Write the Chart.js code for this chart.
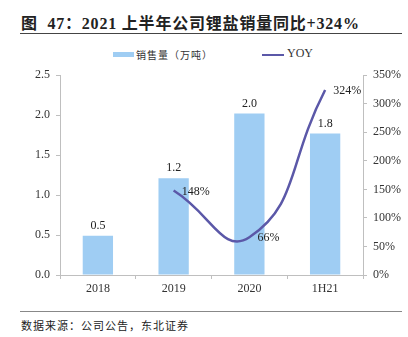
<!DOCTYPE html>
<html lang="zh-CN">
<head>
<meta charset="UTF-8" />
<title>2021上半年公司锂盐销量</title>
<script src="https://cdn.jsdelivr.net/npm/chart.js"></script>
<style>
    body {
        margin: 0;
        width: 408px;
        height: 337px;
        background: #fff;
        position: relative;
        overflow: hidden;
        font-family: 'Liberation Serif', 'Noto Sans CJK SC', serif;
        color: #222;
    }
    .titulo {
        position: absolute;
        left: 21px;
        top: 10px;
        font-size: 16px;
        font-weight: bold;
        white-space: nowrap;
        letter-spacing: 0.8px;
    }
    .regua {
        position: absolute;
        left: 20px;
        width: 382px;
        height: 0;
    }
    .legenda {
        position: absolute;
        top: 47px;
        left: 0;
        width: 408px;
        font-size: 10px;
        font-family: 'Noto Sans CJK SC', sans-serif;
        color: #333;
    }
    .legenda span { position: absolute; white-space: nowrap; }
    .fonte {
        position: absolute;
        left: 21px;
        top: 317px;
        font-size: 11px;
        font-family: 'Noto Sans CJK SC', sans-serif;
        color: #222;
        letter-spacing: 1px;
    }
    .caixa {
        position: absolute;
        left: 0;
        top: 62px;
        width: 408px;
        height: 240px;
    }
</style>
</head>
<body>
    <div class="titulo">图&nbsp;&nbsp;47：2021 上半年公司锂盐销量同比+324%</div>
    <div class="regua" style="top:33px;border-top:1.5px solid #444;"></div>
    <div class="legenda" id="legenda"></div>
    <div class="caixa">
        <canvas id="grafico" width="408" height="240"></canvas>
    </div>
    <div class="regua" style="top:311px;border-top:1.5px solid #888;"></div>
    <div class="fonte">数据来源：公司公告，东北证券</div>

<script>
    // dados
    const categorias = ['2018', '2019', '2020', '1H21'];
    const vendas = [0.49, 1.21, 2.02, 1.77];
    const vendasRotulos = ['0.5', '1.2', '2.0', '1.8'];
    const yoy = [null, 148, 66, 324];
    const nomeVendas = '销售量（万吨）';
    const nomeYoy = 'YOY';

    const corBarra = '#9fcdf3';
    const corLinha = '#5b58a8';
    const corEixo = '#bfbfbf';
    const corTexto = '#333';
    const fonteNum = { family: "'Liberation Serif', serif", size: 12 };

    // legenda em html
    const leg = document.getElementById('legenda');
    leg.innerHTML =
        '<span style="left:113px;top:5px;width:21px;height:5px;background:' + corBarra + '"></span>' +
        '<span style="left:136px;top:0px;letter-spacing:1px;">' + nomeVendas + '</span>' +
        '<span style="left:262px;top:7px;width:22px;height:0;border-top:2px solid ' + corLinha + '"></span>' +
        '<span style="left:287px;top:-1px;font-family:\'Liberation Serif\',serif;font-size:12px;">' + nomeYoy + '</span>';

    const rotulos = {
        id: 'rotulos',
        afterDatasetsDraw(chart) {
            const ctx = chart.ctx;
            ctx.save();
            ctx.font = '12px "Liberation Serif", serif';
            ctx.fillStyle = '#222';
            const barras = chart.getDatasetMeta(0).data;
            barras.forEach((b, i) => {
                ctx.textAlign = 'center';
                ctx.textBaseline = 'bottom';
                ctx.fillText(vendasRotulos[i], b.x, b.y - 4);
            });
            const pontos = chart.getDatasetMeta(1).data;
            pontos.forEach((p, i) => {
                if (yoy[i] == null) return;
                ctx.textAlign = 'left';
                ctx.textBaseline = 'middle';
                ctx.fillText(yoy[i] + '%', p.x + 8, p.y + 1);
            });
            ctx.restore();
        }
    };

    new Chart(document.getElementById('grafico'), {
        data: {
            labels: categorias,
            datasets: [
                {
                    type: 'bar',
                    label: nomeVendas,
                    data: vendas,
                    yAxisID: 'y',
                    backgroundColor: corBarra,
                    barPercentage: 0.4,
                    categoryPercentage: 1,
                    order: 1
                },
                {
                    type: 'line',
                    label: nomeYoy,
                    data: yoy,
                    yAxisID: 'y2',
                    borderColor: corLinha,
                    borderWidth: 2.5,
                    pointRadius: 0,
                    tension: 0.5,
                    fill: false,
                    order: 0
                }
            ]
        },
        options: {
            responsive: false,
            animation: false,
            layout: { padding: { top: 12, right: 0, left: 0, bottom: 0 } },
            plugins: {
                legend: { display: false },
                tooltip: { enabled: false }
            },
            scales: {
                x: {
                    offset: true,
                    grid: { offset: true, drawOnChartArea: false, color: corEixo, tickLength: 4 },
                    border: { color: corEixo },
                    ticks: { color: corTexto, font: fonteNum, padding: 3 },
                    afterFit(s) { s.height = 27; }
                },
                y: {
                    position: 'left',
                    min: 0,
                    max: 2.5,
                    ticks: {
                        stepSize: 0.5,
                        color: corTexto,
                        font: fonteNum,
                        padding: 6,
                        callback: v => v.toFixed(1)
                    },
                    grid: { drawOnChartArea: false, color: corEixo, tickLength: 4 },
                    border: { color: corEixo },
                    afterFit(s) { s.width = 60; }
                },
                y2: {
                    position: 'right',
                    min: 0,
                    max: 350,
                    ticks: {
                        stepSize: 50,
                        color: corTexto,
                        font: fonteNum,
                        padding: 6,
                        callback: v => v + '%'
                    },
                    grid: { drawOnChartArea: false, color: corEixo, tickLength: 4 },
                    border: { color: corEixo },
                    afterFit(s) { s.width = 45; }
                }
            }
        },
        plugins: [rotulos]
    });
</script>
</body>
</html>
